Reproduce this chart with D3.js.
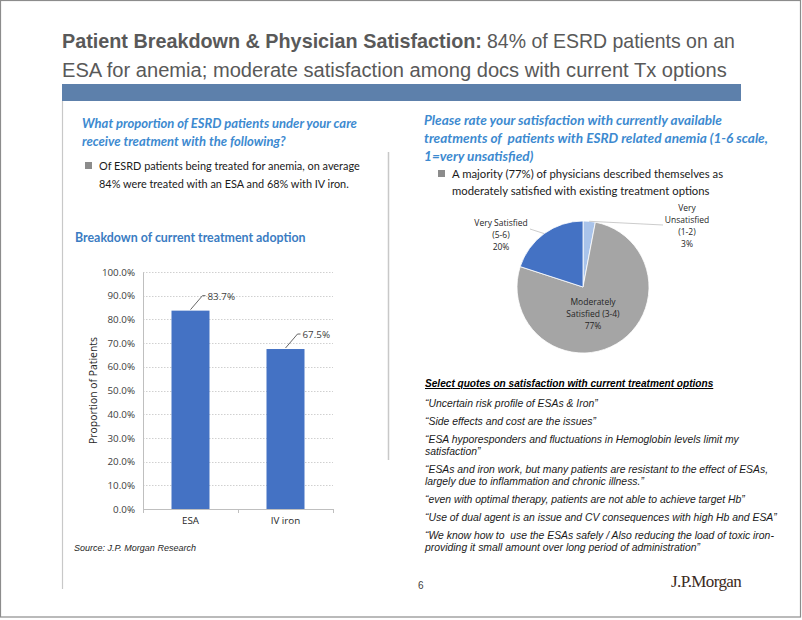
<!DOCTYPE html>
<html>
<head>
<meta charset="utf-8">
<script src="https://cdn.jsdelivr.net/npm/d3@7"></script>
<style>
  html, body { margin: 0; padding: 0; background: #fff; }
  svg { display: block; }
  text { white-space: pre; }
</style>
</head>
<body>
<svg id="chart" width="802" height="620"></svg>
<script>
// ---------------- DATA ----------------
const titleBold = "Patient Breakdown & Physician Satisfaction:";
const titleRest1 = "84% of ESRD patients on an";
const titleLine2 = "ESA for anemia; moderate satisfaction among docs with current Tx options";

const leftQuestion = ["What proportion of ESRD patients under your care", "receive treatment with the following?"];
const leftBullet = ["Of ESRD patients being treated for anemia, on average", "84% were treated with an ESA and 68% with IV iron."];
const barTitle = "Breakdown of current treatment adoption";

const barCategories = ["ESA", "IV iron"];
const barValues = [0.837, 0.675];
const barTickValues = [0, 0.1, 0.2, 0.3, 0.4, 0.5, 0.6, 0.7, 0.8, 0.9, 1.0];
const barYLabel = "Proportion of Patients";
const sourceText = "Source: J.P. Morgan Research";

const rightQuestion = ["Please rate your satisfaction with currently available", "treatments of  patients with ESRD related anemia (1-6 scale,", "1=very unsatisfied)"];
const rightBullet = ["A majority (77%) of physicians described themselves as", "moderately satisfied with existing treatment options"];

const pieLabels = [["Very", "Unsatisfied", "(1-2)"], ["Moderately", "Satisfied (3-4)"], ["Very Satisfied", "(5-6)"]];
const pieValues = [0.03, 0.77, 0.20];
const pieColors = ["#a9c3ea", "#a5a5a5", "#4472c4"];

const quotesHeader = "Select quotes on satisfaction with current treatment options";
const quotes = [
  ["\u201CUncertain risk profile of ESAs & Iron\u201D"],
  ["\u201CSide effects and cost are the issues\u201D"],
  ["\u201CESA hyporesponders and fluctuations in Hemoglobin levels limit my", "satisfaction\u201D"],
  ["\u201CESAs and iron work, but many patients are resistant to the effect of ESAs,", "largely due to inflammation and chronic illness.\u201D"],
  ["\u201Ceven with optimal therapy, patients are not able to achieve target Hb\u201D"],
  ["\u201CUse of dual agent is an issue and CV consequences with high Hb and ESA\u201D"],
  ["\u201CWe know how to  use the ESAs safely / Also reducing the load of toxic iron-", "providing it small amount over long period of administration\u201D"]
];
const pageNumber = "6";
const logoText = "J.P.Morgan";

// ---------------- DRAW ----------------
const svg = d3.select("#chart");
const sans = "'Liberation Sans', Arial, sans-serif";
const narrow = "'Liberation Sans Narrow', 'Liberation Sans', Arial, sans-serif";
const cal = "Lato, 'Open Sans', sans-serif";
const blueText = "#3d8ad0";

// scale the font size so that the text spans the given width
function fitSize(sel, w) {
  sel.each(function () {
    const cur = this.getComputedTextLength();
    const fs = parseFloat(d3.select(this).attr("font-size"));
    if (cur > 0) d3.select(this).attr("font-size", (fs * w / cur).toFixed(2));
  });
}

// page border
svg.append("rect").attr("x", 0.5).attr("y", 0.5).attr("width", 800).attr("height", 616.5)
  .attr("fill", "none").attr("stroke", "#8c8c8c").attr("stroke-width", 1.2);

// title
const tb = svg.append("text").attr("x", 62).attr("y", 48).attr("font-family", narrow)
  .attr("font-size", 24).attr("font-weight", "bold").attr("fill", "#595959").text(titleBold);
fitSize(tb, 420);
const tr = svg.append("text").attr("x", 487).attr("y", 48).attr("font-family", narrow)
  .attr("font-size", 24).attr("fill", "#595959").text(titleRest1);
fitSize(tr, 248);
const t2 = svg.append("text").attr("x", 62).attr("y", 77).attr("font-family", narrow)
  .attr("font-size", 24).attr("fill", "#595959").text(titleLine2);
fitSize(t2, 665);

// blue band
svg.append("rect").attr("x", 62).attr("y", 84).attr("width", 679).attr("height", 17).attr("fill", "#5d80ab");

// frame lines
svg.append("line").attr("x1", 62.5).attr("x2", 62.5).attr("y1", 101).attr("y2", 589).attr("stroke", "#c8c8c8").attr("stroke-width", 1.2);
svg.append("line").attr("x1", 388.5).attr("x2", 388.5).attr("y1", 152).attr("y2", 460).attr("stroke", "#c8c8c8").attr("stroke-width", 1.5);

// left question
leftQuestion.forEach((s, i) => {
  svg.append("text").attr("x", 82).attr("y", 128 + i * 18).attr("font-family", cal)
    .attr("font-size", 13).attr("font-style", "italic").attr("font-weight", "bold").attr("fill", blueText).text(s);
});
// left bullet
svg.append("rect").attr("x", 85).attr("y", 162).attr("width", 7).attr("height", 7).attr("fill", "#8c8c8c");
leftBullet.forEach((s, i) => {
  svg.append("text").attr("x", 99).attr("y", 170 + i * 18).attr("font-family", cal)
    .attr("font-size", 10.9).attr("fill", "#1a1a1a").text(s);
});
svg.append("text").attr("x", 75).attr("y", 242).attr("font-family", cal).attr("font-size", 12.4)
  .attr("font-weight", "bold").attr("fill", "#3b7cc2").text(barTitle);

// bar chart
const x = d3.scaleBand().domain(barCategories).range([143, 333]).paddingInner(0.6).paddingOuter(0.3);
const y = d3.scaleLinear().domain([0, 1]).range([509, 272]);
const axisFont = "'Open Sans', sans-serif";
const axisSize = 9.8;

const grid = svg.append("g");
grid.selectAll("line").data(barTickValues.slice(1)).join("line")
  .attr("x1", 143).attr("x2", 333).attr("y1", d => Math.round(y(d)) + 0.5).attr("y2", d => Math.round(y(d)) + 0.5)
  .attr("stroke", "#d0d0d0").attr("stroke-dasharray", "1.5,1.5");

const yAxis = svg.append("g").attr("transform", "translate(143,0)")
  .call(d3.axisLeft(y).tickValues(barTickValues).tickFormat(d3.format(".1%")).tickSize(0).tickPadding(8));
yAxis.select(".domain").attr("stroke", "#bfbfbf");
yAxis.selectAll("text").attr("font-family", axisFont).attr("font-size", axisSize).attr("fill", "#404040");

svg.selectAll(".bar").data(barValues).join("rect").attr("class", "bar")
  .attr("x", (d, i) => x(barCategories[i])).attr("width", x.bandwidth())
  .attr("y", d => y(d)).attr("height", d => y(0) - y(d)).attr("fill", "#4472c4");

const xAxis = svg.append("g").attr("transform", "translate(0,509)")
  .call(d3.axisBottom(x).tickSize(0).tickPadding(8));
xAxis.select(".domain").attr("stroke", "#bfbfbf");
xAxis.selectAll("text").attr("font-family", axisFont).attr("font-size", axisSize).attr("fill", "#262626");
xAxis.selectAll(".bt").data([143, 238, 333]).join("line").attr("class", "bt")
  .attr("x1", d => d + 0.5).attr("x2", d => d + 0.5).attr("y1", 0).attr("y2", 4).attr("stroke", "#bfbfbf");

// data labels with leader lines
barValues.forEach((v, i) => {
  const cx = x(barCategories[i]) + x.bandwidth() / 2;
  const top = y(v);
  svg.append("path").attr("d", `M${cx},${top - 1} L${cx + 12},${top - 15} L${cx + 15},${top - 15}`)
    .attr("fill", "none").attr("stroke", "#404040").attr("stroke-width", 0.8);
  svg.append("text").attr("x", cx + 17).attr("y", top - 11).attr("font-family", axisFont)
    .attr("font-size", axisSize).attr("fill", "#404040").text(d3.format(".1%")(v));
});

svg.append("text").attr("transform", `translate(97,${(272 + 509) / 2}) rotate(-90)`).attr("text-anchor", "middle")
  .attr("font-family", axisFont).attr("font-size", 10.4).attr("fill", "#262626").text(barYLabel);

svg.append("text").attr("x", 74).attr("y", 551).attr("font-family", sans).attr("font-size", 9)
  .attr("font-style", "italic").attr("fill", "#262626").text(sourceText);

// right question
rightQuestion.forEach((s, i) => {
  svg.append("text").attr("x", 424).attr("y", 125 + i * 18).attr("font-family", cal)
    .attr("font-size", 13.6).attr("font-style", "italic").attr("font-weight", "bold").attr("fill", blueText).text(s);
});
svg.append("rect").attr("x", 438).attr("y", 170).attr("width", 7).attr("height", 7).attr("fill", "#8c8c8c");
rightBullet.forEach((s, i) => {
  svg.append("text").attr("x", 452).attr("y", 178 + i * 17).attr("font-family", cal)
    .attr("font-size", 11.3).attr("fill", "#1a1a1a").text(s);
});

// pie
const pcx = 583, pcy = 287, pr = 66;
const pie = d3.pie().sort(null).value(d => d);
const arcs = pie(pieValues);
const arc = d3.arc().innerRadius(0).outerRadius(pr);
const pg = svg.append("g").attr("transform", `translate(${pcx},${pcy})`);
pg.selectAll("path").data(arcs).join("path").attr("d", arc)
  .attr("fill", (d, i) => pieColors[i]).attr("stroke", "#fff").attr("stroke-width", 0.8);

const pieFont = "'Open Sans', sans-serif";
const pctFmt = d3.format(".0%");
function pieLabel(lines, pct, cx, y0) {
  lines.concat([pctFmt(pct)]).forEach((s, i) => {
    svg.append("text").attr("x", cx).attr("y", y0 + i * 12).attr("text-anchor", "middle")
      .attr("font-family", pieFont).attr("font-size", 8.5).attr("fill", "#262626").text(s);
  });
}
pieLabel(pieLabels[0], pieValues[0], 687, 211);
pieLabel(pieLabels[1], pieValues[1], 593, 305);
pieLabel(pieLabels[2], pieValues[2], 501, 226);
// leader lines
const aU = arcs[0], midU = (aU.startAngle + aU.endAngle) / 2;
svg.append("path").attr("d", `M${pcx + Math.sin(midU) * pr},${pcy - Math.cos(midU) * pr} L663,225`)
  .attr("fill", "none").attr("stroke", "#bfbfbf").attr("stroke-width", 0.8);
const aS = arcs[2], midS = (aS.startAngle + aS.endAngle) / 2;
svg.append("path").attr("d", `M${pcx + Math.sin(midS) * pr},${pcy - Math.cos(midS) * pr} L530,229`)
  .attr("fill", "none").attr("stroke", "#bfbfbf").attr("stroke-width", 0.8);

// quotes
svg.append("text").attr("x", 425).attr("y", 387).attr("font-family", sans).attr("font-size", 10.1)
  .attr("font-weight", "bold").attr("font-style", "italic").attr("text-decoration", "underline").attr("fill", "#000").text(quotesHeader);
let qy = 407;
quotes.forEach(q => {
  q.forEach((s, j) => {
    svg.append("text").attr("x", 425).attr("y", qy + j * 12).attr("font-family", sans).attr("font-size", 10.4)
      .attr("font-style", "italic").attr("fill", "#1a1a1a").text(s);
  });
  qy += (q.length - 1) * 12 + 18;
});

svg.append("text").attr("x", 418).attr("y", 589).attr("font-family", sans).attr("font-size", 10).attr("fill", "#404040").text(pageNumber);
svg.append("text").attr("x", 671).attr("y", 587).attr("font-family", "'Liberation Serif', 'DejaVu Serif', serif")
  .attr("font-size", 17).attr("letter-spacing", -0.6).attr("fill", "#3b2a22").text(logoText);
</script>
</body>
</html>
